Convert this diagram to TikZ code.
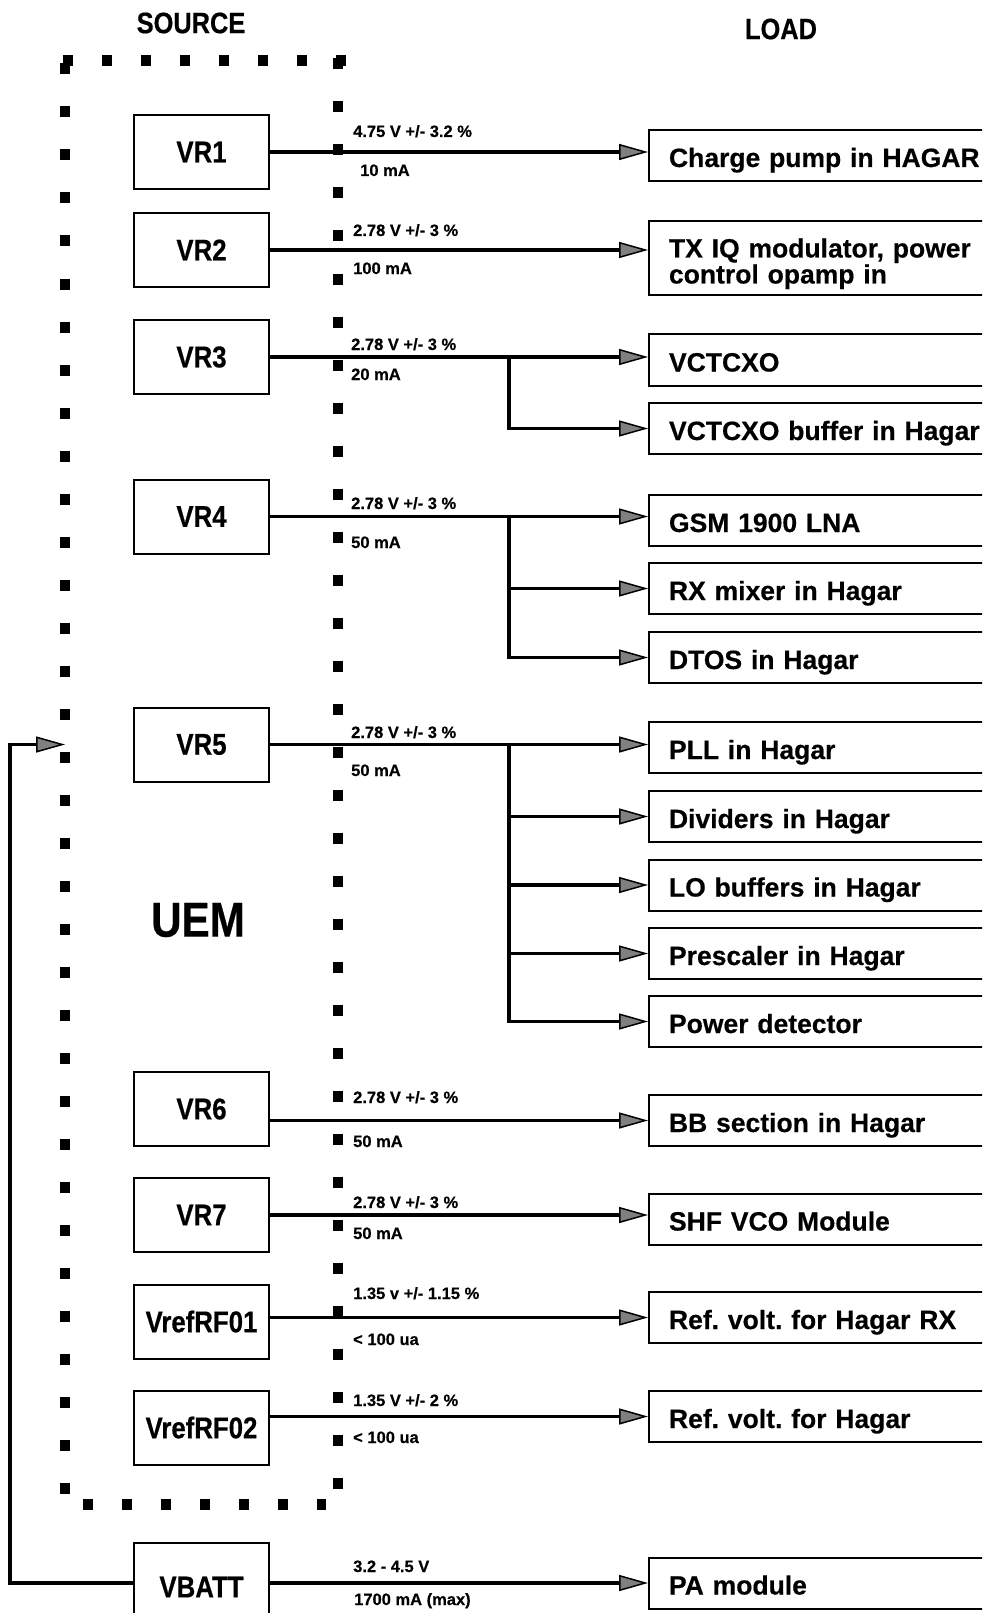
\documentclass[tikz,border=0pt]{standalone}
\usepackage{fontspec}
\setmainfont{Liberation Sans}[BoldFeatures={FakeBold=0.4}]
\newfontfamily\narrowbf{Liberation Sans Bold}[FakeStretch=0.86, FakeBold=0.5]
\usetikzlibrary{arrows.meta}
\frenchspacing

\begin{document}
\begin{tikzpicture}[
  x=1pt, y=-1pt,
  src/.style={draw, line width=2pt, minimum width=135pt, minimum height=74pt, inner sep=0pt,
              font=\narrowbf\fontsize{30}{32}\selectfont},
  load/.style={draw, line width=2pt, anchor=west, minimum width=360pt, minimum height=51pt,
               text width=320pt, inner xsep=20pt, inner ysep=0pt, align=left,
               text height=23pt, text depth=0pt, font=\bfseries\fontsize{26.5}{26}\selectfont},
  val/.style={anchor=base west, inner sep=0pt, font=\bfseries\fontsize{16.5}{18}\selectfont},
  title/.style={inner sep=0pt, font=\narrowbf\fontsize{29.5}{32}\selectfont},
  feed/.style={line width=3.5pt, -{Triangle[length=29pt, width=16pt, line width=1.5pt, fill=black!50]}},
  dotsv/.style={line width=10pt, dash pattern=on 11pt off 32pt},
  dotsh/.style={line width=11pt, dash pattern=on 10pt off 29pt}
]
\useasboundingbox (0,0) rectangle (982,1613);
\clip (0,0) rectangle (982,1613);

% headings
\node[title] (source) at (191,23) {SOURCE};
\node[title] (loadtitle) at (781,29) {LOAD};
\node[inner sep=0pt, font=\narrowbf\fontsize{49}{50}\selectfont] (uem) at (198,920) {UEM};

% UEM outline
\draw[dotsh] (63,61) -- (346,61);
\draw[dotsv] (65,63.5) -- (65,1493.5);
\draw[dotsv] (338,58.5) -- (338,1488.5);
\draw[dotsh] (83,1504) -- (326,1504);

% regulators
\node[src] (vr1) at (201.5,152) {VR1};
\node[src] (vr2) at (201.5,250) {VR2};
\node[src] (vr3) at (201.5,357) {VR3};
\node[src] (vr4) at (201.5,516.5) {VR4};
\node[src] (vr5) at (201.5,744.5) {VR5};
\node[src] (vr6) at (201.5,1109) {VR6};
\node[src] (vr7) at (201.5,1215) {VR7};
\node[src] (vrefa) at (201.5,1321.5) {VrefRF01};
\node[src] (vrefb) at (201.5,1427.5) {VrefRF02};
\node[src, minimum height=88pt] (vbatt) at (201.5,1587) {VBATT};

% loads
\node[load] (charge) at (648,155.5) {Charge pump in HAGAR};
\node[load, minimum height=74pt, text height=25pt, text depth=26pt] (txiq) at (648,258) {TX IQ modulator, power\\control opamp in};
\node[load, minimum height=52pt] (vctcxo) at (648,360) {VCTCXO};
\node[load] (vcbuf) at (648,428.5) {VCTCXO buffer in Hagar};
\node[load] (gsm) at (648,520.5) {GSM 1900 LNA};
\node[load] (rxmix) at (648,588.5) {RX mixer in Hagar};
\node[load] (dtos) at (648,657.5) {DTOS in Hagar};
\node[load] (pll) at (648,747.5) {PLL in Hagar};
\node[load] (divs) at (648,816.5) {Dividers in Hagar};
\node[load] (lobuf) at (648,885) {LO buffers in Hagar};
\node[load] (presc) at (648,953.5) {Prescaler in Hagar};
\node[load] (pdet) at (648,1021.5) {Power detector};
\node[load] (bb) at (648,1120.5) {BB section in Hagar};
\node[load] (shf) at (648,1219) {SHF VCO Module};
\node[load] (refrx) at (648,1317.5) {Ref. volt. for Hagar RX};
\node[load] (refh) at (648,1416.5) {Ref. volt. for Hagar};
\node[load] (pa) at (648,1583) {PA module};

% supply lines
\coordinate (bus) at (509,0);
\draw[feed] (vr1.east) -- (vr1.east -| charge.west);
\draw[feed] (vr2.east) -- (vr2.east -| txiq.west);
\draw[feed] (vr3.east) -- (vr3.east -| vctcxo.west);
\draw[feed] (bus |- vr3.east) |- (vcbuf.west);
\draw[feed] (vr4.east) -- (vr4.east -| gsm.west);
\draw[feed] (bus |- vr4.east) |- (rxmix.west);
\draw[feed] (bus |- vr4.east) |- (dtos.west);
\draw[feed] (vr5.east) -- (vr5.east -| pll.west);
\draw[feed] (bus |- vr5.east) |- (divs.west);
\draw[feed] (bus |- vr5.east) |- (lobuf.west);
\draw[feed] (bus |- vr5.east) |- (presc.west);
\draw[feed] (bus |- vr5.east) |- (pdet.west);
\draw[feed] (bb.west -| vr6.east) -- (bb.west);
\draw[feed] (vr7.east) -- (vr7.east -| shf.west);
\draw[feed] (refrx.west -| vrefa.east) -- (refrx.west);
\draw[feed] (refh.west -| vrefb.east) -- (refh.west);
\draw[feed] (pa.west -| vbatt.east) -- (pa.west);

% battery into UEM
\coordinate (uemin) at (65,744.5);
\draw[feed] (pa.west -| vbatt.west) -| ([xshift=-55pt]uemin) -- (uemin);

% ratings
\node[val] (u1) at (353,137) {4.75 V +/- 3.2 \%};
\node[val] (i1) at (360,176) {10 mA};
\node[val] (u2) at (353,236) {2.78 V +/- 3 \%};
\node[val] (i2) at (353,274) {100 mA};
\node[val] (u3) at (351,350) {2.78 V +/- 3 \%};
\node[val] (i3) at (351,380) {20 mA};
\node[val] (u4) at (351,509) {2.78 V +/- 3 \%};
\node[val] (i4) at (351,548) {50 mA};
\node[val] (u5) at (351,738) {2.78 V +/- 3 \%};
\node[val] (i5) at (351,776) {50 mA};
\node[val] (u6) at (353,1103) {2.78 V +/- 3 \%};
\node[val] (i6) at (353,1147) {50 mA};
\node[val] (u7) at (353,1208) {2.78 V +/- 3 \%};
\node[val] (i7) at (353,1239) {50 mA};
\node[val] (u8) at (353,1299) {1.35 v +/- 1.15 \%};
\node[val] (i8) at (353,1345) {< 100 ua};
\node[val] (u9) at (353,1406) {1.35 V +/- 2 \%};
\node[val] (i9) at (353,1443) {< 100 ua};
\node[val] (u10) at (353,1572) {3.2 - 4.5 V};
\node[val] (i10) at (354,1605) {1700 mA (max)};
\end{tikzpicture}
\end{document}
